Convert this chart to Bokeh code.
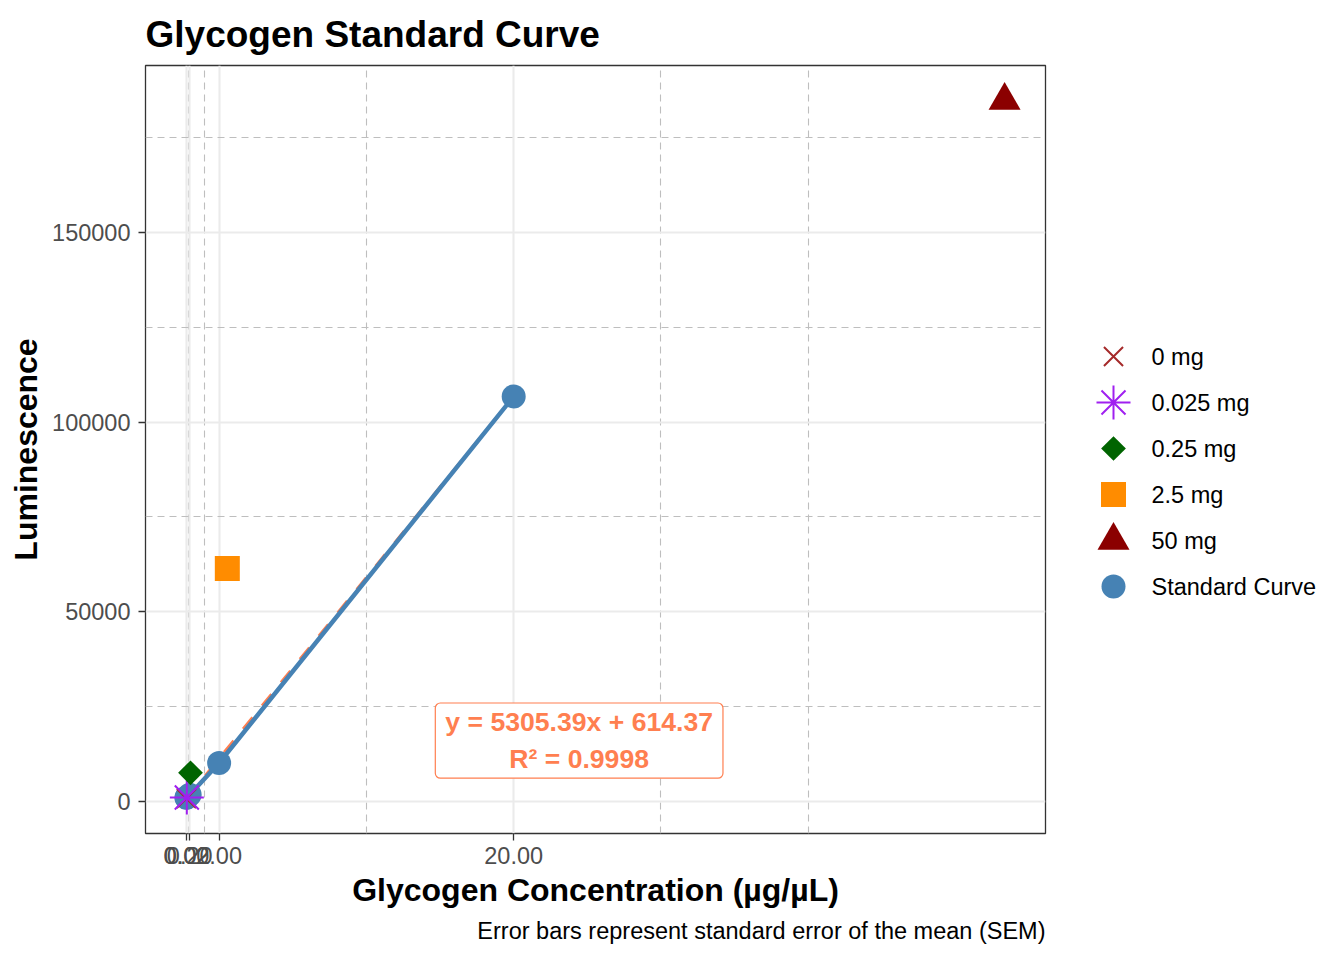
import math
from bokeh.plotting import figure
from bokeh.layouts import row
from bokeh.models import (Range1d, FixedTicker, PrintfTickFormatter, NumeralTickFormatter,
                          Label, Title)
from bokeh.core.properties import value
from bokeh.embed import file_html
from bokeh.resources import INLINE

# ---------------- data ----------------
std_conc = [0.0, 0.02, 0.2, 2.0, 20.0]
std_lum = [900, 1000, 1700, 10100, 106800]

sample_names = ["0 mg", "0.025 mg", "0.25 mg", "2.5 mg", "50 mg"]
sample_conc = [0.0, 0.025, 0.25, 2.5, 50.0]
sample_lum = [700, 1000, 7500, 61400, 184900]

fit_slope = 5305.39
fit_intercept = 614.37
fit_r2 = 0.9998

x_ticks = [0, 0.02, 0.2, 2, 20]
x_minor = [-0.01, 0.01, 0.11, 1.1, 11, 29, 38]
y_ticks = [0, 50000, 100000, 150000]
y_minor = [25000, 75000, 125000, 175000]

# ---------------- styles ----------------
FONT = "Liberation Sans"
STEEL = "#4682B4"
CORAL = "#FF7F50"
sample_styles = [
    dict(marker="x", size=27, line_color="#A52A2A", line_width=2, fill_color=None, angle=0),
    dict(marker="asterisk", size=34, line_color="#A020F0", line_width=2, fill_color=None, angle=0),
    dict(marker="square", size=17.5, line_color=None, line_width=0, fill_color="#006400", angle=math.pi / 4),
    dict(marker="square", size=25, line_color=None, line_width=0, fill_color="#FF8C00", angle=0),
    dict(marker="triangle", size=32, line_color=None, line_width=0, fill_color="#8B0000", angle=0),
]
std_style = dict(marker="circle", size=24, line_color=None, line_width=0, fill_color=STEEL, angle=0)

all_x = std_conc + sample_conc
all_y = std_lum + sample_lum
xr = max(all_x) - min(all_x)
yr = max(all_y) - min(all_y)

H = 948
PW = 1060
FRAME_TOP, FRAME_BOTTOM = 65, 833
p = figure(width=PW, height=H, output_backend="svg", toolbar_location=None,
           x_range=Range1d(min(all_x) - 0.05 * xr, max(all_x) + 0.05 * xr),
           y_range=Range1d(min(all_y) - 0.05 * yr, max(all_y) + 0.05 * yr),
           min_border_left=145, min_border_right=15,
           min_border_top=FRAME_TOP, min_border_bottom=H - FRAME_BOTTOM)

p.background_fill_color = "white"
p.border_fill_color = "white"
p.outline_line_color = "#333333"
p.outline_line_width = 1.3

# title
p.title.text = "Glycogen Standard Curve"
p.title.text_font = FONT
p.title.text_font_size = "37px"
p.title.text_font_style = "bold"
p.title.text_color = "black"
p.title.align = "left"
p.title.standoff = 22

# axes
xt = FixedTicker(ticks=x_ticks, minor_ticks=x_minor)
yt = FixedTicker(ticks=y_ticks, minor_ticks=y_minor)
p.xaxis.ticker = xt
p.yaxis.ticker = yt
p.xgrid.ticker = xt
p.ygrid.ticker = yt
p.xaxis.formatter = PrintfTickFormatter(format="%.2f")
p.yaxis.formatter = NumeralTickFormatter(format="0")

for ax in (p.xaxis, p.yaxis):
    ax.axis_line_color = None
    ax.major_tick_out = 7
    ax.major_tick_in = 0
    ax.major_tick_line_color = "#333333"
    ax.major_tick_line_width = 1.3
    ax.minor_tick_line_color = None
    ax.major_label_text_font = FONT
    ax.major_label_text_font_size = "23.5px"
    ax.major_label_text_color = "#4D4D4D"
    ax.axis_label_text_font = FONT
    ax.axis_label_text_font_size = "32px"
    ax.axis_label_text_font_style = "bold"
    ax.axis_label_text_color = "black"

p.xaxis.major_label_standoff = 6
p.yaxis.major_label_standoff = 8
p.xaxis.axis_label = "Glycogen Concentration (µg/µL)"
p.yaxis.axis_label = "Luminescence"
p.xaxis.axis_label_standoff = 5
p.yaxis.axis_label_standoff = 5

for g in (p.xgrid, p.ygrid):
    g.grid_line_color = "#EBEBEB"
    g.grid_line_width = 2.1
    g.minor_grid_line_color = "#BEBEBE"
    g.minor_grid_line_width = 1.1
    g.minor_grid_line_dash = "7 5"

# regression line (dashed coral)
fit_x = [min(std_conc), max(std_conc)]
fit_y = [fit_slope * v + fit_intercept for v in fit_x]
p.line(fit_x, fit_y, line_color=CORAL, line_width=3.2, line_dash="15 15")

# standard curve
p.line(std_conc, std_lum, line_color=STEEL, line_width=4.5)
p.scatter(std_conc, std_lum, **std_style)

# samples
for xv, yv, st in zip(sample_conc, sample_lum, sample_styles):
    p.scatter([xv], [yv], **st)

# equation label
eq_text = f"y = {fit_slope:.2f}x + {fit_intercept:.2f}\nR² = {fit_r2:.4f}"
p.add_layout(Label(x=24, y=16000, text=eq_text, text_align="center", text_baseline="middle",
                   text_font=FONT, text_font_size="26.6px", text_font_style="bold",
                   text_color=CORAL, text_line_height=1.24,
                   background_fill_color="white", border_line_color=CORAL, border_line_width=1.2,
                   padding=(10, 4), border_radius=5))

# caption
p.add_layout(Title(text="Error bars represent standard error of the mean (SEM)", align="right",
                   text_font=FONT, text_font_size="23.5px", text_font_style="normal",
                   text_color="black", standoff=10), "below")

# ---------------- legend panel (its frame is aligned with the plot frame) ----------------
LW = 268
q = figure(width=LW, height=H, output_backend="svg", toolbar_location=None,
           x_range=Range1d(PW, PW + LW), y_range=Range1d(FRAME_BOTTOM, FRAME_TOP),
           x_axis_location=None, y_axis_location=None,
           min_border_left=0, min_border_right=0,
           min_border_top=FRAME_TOP, min_border_bottom=H - FRAME_BOTTOM)
q.outline_line_color = None
q.xgrid.visible = False
q.ygrid.visible = False
q.background_fill_color = "white"
q.border_fill_color = "white"

leg_names = sample_names + ["Standard Curve"]
leg_styles = sample_styles + [std_style]
key_x = 1113
text_x = 1151
top_y = 356
pitch = 46
leg_y = [top_y + i * pitch for i in range(len(leg_names))]
for yy, st in zip(leg_y, leg_styles):
    q.scatter([key_x], [yy], **st)
q.text(x=[text_x] * len(leg_names), y=leg_y,
       text=leg_names, text_baseline="middle", text_align="left",
       text_font=value(FONT), text_font_size="23.5px", text_color="black")

open("out.html", "w").write(file_html(row(p, q), INLINE))
